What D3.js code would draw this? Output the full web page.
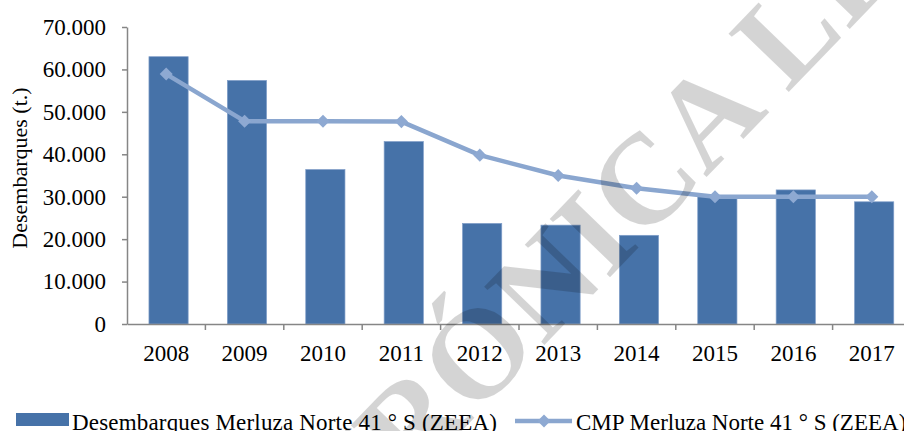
<!DOCTYPE html>
<html>
<head>
<meta charset="utf-8">
<script src="https://cdn.jsdelivr.net/npm/d3@7"></script>
<style>
  body { margin: 0; background: #fff; }
  svg { display: block; font-family: "Liberation Serif", "Times New Roman", serif; }
</style>
</head>
<body>
<svg id="chart"></svg>
<script>
// data
var years = ["2008", "2009", "2010", "2011", "2012", "2013", "2014", "2015", "2016", "2017"];
var desembarques = [63000, 57400, 36400, 43000, 23700, 23300, 20900, 30000, 31600, 28800];
var cmp = [58900, 47800, 47800, 47700, 39800, 35000, 32000, 30000, 30000, 30000];
var yTicks = [0, 10000, 20000, 30000, 40000, 50000, 60000, 70000];
var seriesNames = ["Desembarques Merluza Norte 41 ° S (ZEEA)", "CMP Merluza Norte 41 ° S (ZEEA)"];

var width = 904, height = 431;
var barColor = "#4672a8", lineColor = "#8aa6cf", axisColor = "#868686";

// 70.000 style numbers
var fmt = d3.formatLocale({ decimal: ",", thousands: ".", grouping: [3], currency: ["", ""] }).format(",");

var svg = d3.select("#chart")
  .attr("width", width)
  .attr("height", height);

svg.append("rect").attr("width", width).attr("height", height).attr("fill", "#fff");

var x = d3.scaleBand()
  .domain(years)
  .range([127, 911]);

var y = d3.scaleLinear()
  .domain([0, 70000])
  .range([324, 27]);

// bars
svg.selectAll(".bar")
  .data(years)
  .enter().append("rect")
  .attr("class", "bar")
  .attr("x", function (d) { return x(d) + x.bandwidth() * 0.28; })
  .attr("width", x.bandwidth() * 0.5)
  .attr("y", function (d, i) { return y(desembarques[i]); })
  .attr("height", function (d, i) { return y(0) - y(desembarques[i]); })
  .attr("fill", barColor)
  .attr("stroke", "#7f9dc8")
  .attr("stroke-width", 0.7);

// y axis
var yAxis = svg.append("g")
  .attr("transform", "translate(127,0)")
  .call(d3.axisLeft(y).tickValues(yTicks).tickFormat(fmt).tickSize(5).tickSizeOuter(0));
yAxis.attr("font-family", null);
yAxis.select(".domain").attr("stroke", axisColor).attr("stroke-width", 1.5);
yAxis.selectAll(".tick line").attr("stroke", axisColor).attr("stroke-width", 1.5);
yAxis.selectAll(".tick text")
  .attr("x", -21)
  .attr("font-size", 23)
  .attr("fill", "#000");

// x axis: labels centred, ticks on the band edges
var xAxis = svg.append("g")
  .attr("transform", "translate(0,324)")
  .call(d3.axisBottom(x).tickSize(0).tickSizeOuter(0));
xAxis.attr("font-family", null);
xAxis.select(".domain").attr("stroke", axisColor).attr("stroke-width", 1.5);
xAxis.selectAll(".tick text")
  .attr("y", 21)
  .attr("font-size", 23)
  .attr("fill", "#000");
xAxis.selectAll(".edge")
  .data(years)
  .enter().append("line")
  .attr("class", "edge")
  .attr("x1", function (d) { return x(d) + x.bandwidth(); })
  .attr("x2", function (d) { return x(d) + x.bandwidth(); })
  .attr("y1", 0)
  .attr("y2", 6)
  .attr("stroke", axisColor)
  .attr("stroke-width", 1.5);

// y title
svg.append("text")
  .attr("transform", "translate(27,168) rotate(-90)")
  .attr("text-anchor", "middle")
  .attr("font-size", 22)
  .text("Desembarques (t.)");

// CMP line
var line = d3.line()
  .x(function (d, i) { return x(years[i]) + x.bandwidth() / 2; })
  .y(function (d) { return y(d); });

svg.append("path")
  .datum(cmp)
  .attr("d", line)
  .attr("fill", "none")
  .attr("stroke", lineColor)
  .attr("stroke-width", 4.5)
  .attr("stroke-linejoin", "round");

var diamond = d3.symbol().type(d3.symbolSquare).size(85);
svg.selectAll(".mark")
  .data(cmp)
  .enter().append("path")
  .attr("class", "mark")
  .attr("d", diamond)
  .attr("transform", function (d, i) {
    return "translate(" + (x(years[i]) + x.bandwidth() / 2) + "," + y(d) + ") rotate(45)";
  })
  .attr("fill", "#8ea9d2");

// legend
var leg = svg.append("g");
leg.append("rect")
  .attr("x", 16).attr("y", 413).attr("width", 53).attr("height", 13)
  .attr("fill", barColor);
leg.append("text")
  .attr("x", 72).attr("y", 430)
  .attr("font-size", 23)
  .attr("textLength", 425)
  .text(seriesNames[0]);
leg.append("line")
  .attr("x1", 515).attr("x2", 572).attr("y1", 421).attr("y2", 421)
  .attr("stroke", lineColor).attr("stroke-width", 4.5);
leg.append("path")
  .attr("d", diamond)
  .attr("transform", "translate(544,421) rotate(45)")
  .attr("fill", "#8ea9d2");
leg.append("text")
  .attr("x", 576).attr("y", 430)
  .attr("font-size", 23)
  .text(seriesNames[1]);

// watermark over everything
svg.append("text")
  .attr("transform", "translate(586,302) rotate(-46)")
  .attr("text-anchor", "middle")
  .attr("font-size", 128)
  .attr("font-weight", "bold")
  .attr("fill", "#000")
  .attr("fill-opacity", 0.17)
  .text("ELECTRÓNICA LIBRE");
</script>
</body>
</html>
